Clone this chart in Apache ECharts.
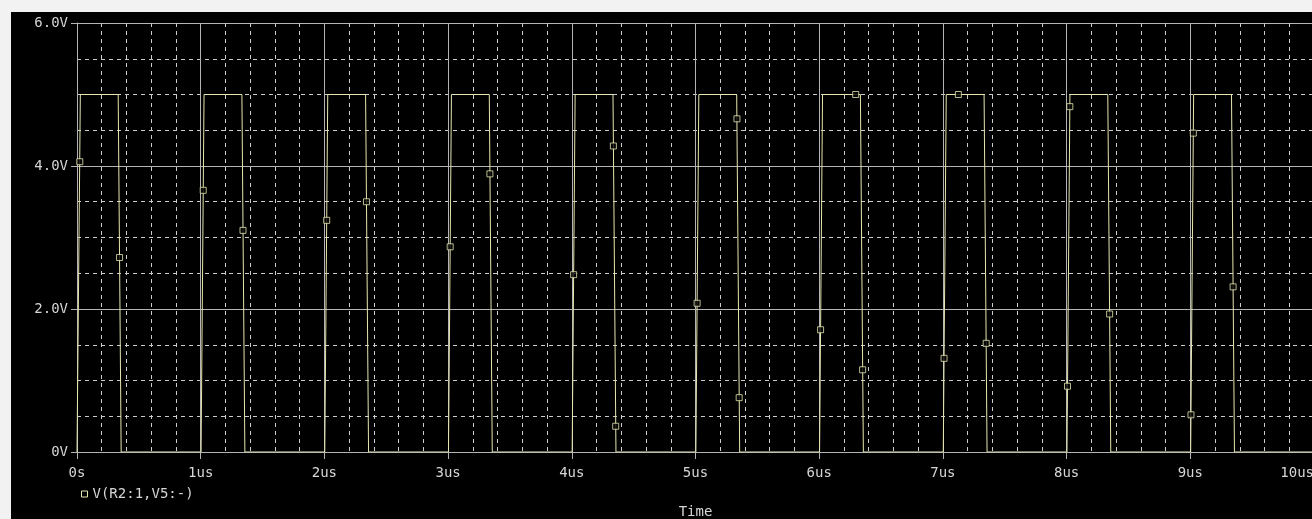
<!DOCTYPE html>
<html>
<head>
<meta charset="utf-8">
<script src="https://cdn.jsdelivr.net/npm/echarts@6/dist/echarts.min.js"></script>
<style>
  html, body { margin: 0; padding: 0; background: #f2f2f2; width: 1312px; height: 519px; overflow: hidden; }
  #panel { position: absolute; left: 11px; top: 12px; width: 1301px; height: 507px; background: #000; }
  #chart { position: absolute; left: 0; top: 0; width: 1312px; height: 519px; }
</style>
</head>
<body>
<div id="panel"></div>
<div id="chart"></div>
<script>
// ---- data (time in us, voltage in V) ----
const seriesName = 'V(R2:1,V5:-)';
const xTickLabels = ['0s', '1us', '2us', '3us', '4us', '5us', '6us', '7us', '8us', '9us', '10us'];
const yTickLabels = { 0: '0V', 2: '2.0V', 4: '4.0V', 6: '6.0V' };
const axisTitle = 'Time';

const traceTime = [
  0, 0.003, 0.027, 0.333, 0.357,
  1.003, 1.027, 1.333, 1.357,
  2.003, 2.027, 2.333, 2.357,
  3.003, 3.027, 3.333, 3.357,
  4.003, 4.027, 4.333, 4.357,
  5.003, 5.027, 5.333, 5.357,
  6.003, 6.027, 6.333, 6.357,
  7.003, 7.027, 7.333, 7.357,
  8.003, 8.027, 8.333, 8.357,
  9.003, 9.027, 9.333, 9.357,
  10
];
const traceVolt = [
  0, 0, 5, 5, 0,
  0, 5, 5, 0,
  0, 5, 5, 0,
  0, 5, 5, 0,
  0, 5, 5, 0,
  0, 5, 5, 0,
  0, 5, 5, 0,
  0, 5, 5, 0,
  0, 5, 5, 0,
  0, 5, 5, 0,
  0
];

const markerTime = [
  0.0225, 0.344, 1.0206, 1.342, 2.0186, 2.340, 3.0168, 3.338,
  4.0149, 4.336, 4.355, 5.013, 5.335, 5.353, 6.0112, 6.295,
  6.351, 7.0093, 7.125, 7.350, 8.0074, 8.0262, 8.348, 9.0055,
  9.0244, 9.346
];
const markerVolt = [
  4.06, 2.72, 3.66, 3.10, 3.24, 3.50, 2.87, 3.89,
  2.48, 4.28, 0.36, 2.08, 4.66, 0.76, 1.71, 5.00,
  1.15, 1.31, 5.00, 1.52, 0.92, 4.83, 1.93, 0.52,
  4.46, 2.31
];

// ---- chart ----
const traceColor = '#e6e6b0';
const textColor = '#d6d6d6';
const axisColor = '#b4b4b4';
const fontFam = '"DejaVu Sans Mono", monospace';

const chart = echarts.init(document.getElementById('chart'), null, { renderer: 'canvas' });
chart.setOption({
  backgroundColor: 'transparent',
  animation: false,
  grid: { left: 77, top: 23, width: 1237, height: 429, containLabel: false, outerBoundsMode: 'none' },
  legend: {
    left: 76, top: 482,
    itemWidth: 6, itemHeight: 6, itemGap: 10,
    textStyle: { color: textColor, fontFamily: fontFam, fontSize: 14 },
    data: [{ name: seriesName, icon: 'rect', itemStyle: { color: '#000', borderColor: traceColor, borderWidth: 1 } }]
  },
  xAxis: {
    type: 'value', min: 0, max: 10, interval: 1,
    name: axisTitle, nameLocation: 'middle', nameGap: 53,
    nameTextStyle: { color: textColor, fontFamily: fontFam, fontSize: 14 },
    axisLine: { show: true, lineStyle: { color: axisColor, width: 1 } },
    axisTick: { show: true, inside: false, length: 7, lineStyle: { color: axisColor } },
    axisLabel: {
      color: textColor, fontFamily: fontFam, fontSize: 14, margin: 14,
      alignMaxLabel: 'right',
      formatter: function (v) { return xTickLabels[Math.round(v)]; }
    },
    splitLine: { show: true, lineStyle: { color: axisColor, width: 1 } },
    minorTick: { show: false, splitNumber: 5 },
    minorSplitLine: { show: true, lineStyle: { color: '#cccccc', width: 1, type: [4, 4] } }
  },
  yAxis: {
    type: 'value', min: 0, max: 6, interval: 2,
    axisLine: { show: true, lineStyle: { color: axisColor, width: 1 } },
    axisTick: { show: true, inside: false, length: 6, lineStyle: { color: axisColor } },
    axisLabel: {
      color: textColor, fontFamily: fontFam, fontSize: 14, margin: 9,
      formatter: function (v) { return yTickLabels[Math.round(v)]; }
    },
    splitLine: { show: true, lineStyle: { color: axisColor, width: 1 } },
    minorTick: { show: false, splitNumber: 4 },
    minorSplitLine: { show: true, lineStyle: { color: '#cccccc', width: 1, type: [4, 4] } }
  },
  series: [
    {
      name: seriesName, type: 'line', showSymbol: false, symbol: 'none',
      lineStyle: { color: traceColor, width: 1 },
      itemStyle: { color: traceColor },
      data: traceTime.map(function (t, i) { return [t, traceVolt[i]]; }),
      z: 3
    },
    {
      name: seriesName, type: 'scatter', symbol: 'rect', symbolSize: 6,
      itemStyle: { color: '#000', borderColor: traceColor, borderWidth: 1 },
      data: markerTime.map(function (t, i) { return [t, markerVolt[i]]; }),
      z: 4
    }
  ]
});
</script>
</body>
</html>
